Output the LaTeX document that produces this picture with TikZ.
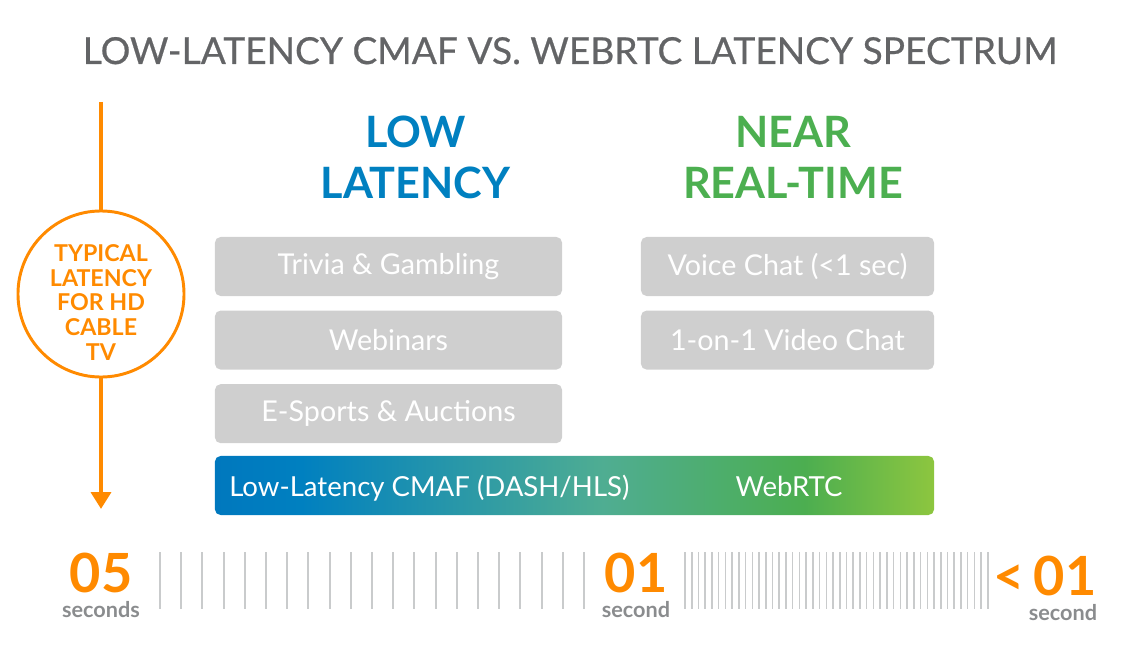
\documentclass[tikz,border=0pt]{standalone}
\usepackage{fontspec}
\setmainfont{Lato}
\newfontfamily\titlefont[FakeBold=0.6]{Lato}
\usetikzlibrary{arrows.meta,positioning}
\definecolor{titlegray}{HTML}{636466}
\definecolor{lowblue}{HTML}{0080C0}
\definecolor{neargreen}{HTML}{4CAF50}
\definecolor{cableorange}{HTML}{FF8A00}
\definecolor{boxgray}{HTML}{CFCFCF}
\definecolor{tickgray}{HTML}{C9CBCC}
\definecolor{unitgray}{HTML}{8A8C8E}
\definecolor{barA}{HTML}{0078BE}
\definecolor{barB}{HTML}{0080C0}
\definecolor{barC}{HTML}{4FAD92}
\definecolor{barD}{HTML}{4CAE50}
\definecolor{barE}{HTML}{8DC63F}
\pgfdeclarehorizontalshading{cmafrtc}{100bp}{color(0bp)=(barA); color(25bp)=(barA); color(31bp)=(barB); color(52bp)=(barC); color(66bp)=(barD); color(75bp)=(barE); color(100bp)=(barE)}

\begin{document}
\begin{tikzpicture}[x=0.025cm,y=-0.025cm,
  heading/.style={anchor=base,font=\bfseries\fontsize{30.7}{36}\selectfont},
  usecase/.style={fill=boxgray,text=white,rounded corners=4pt,inner sep=0pt,
    minimum height=1.475cm,font=\fontsize{20.4}{24}\selectfont},
  bartext/.style={text=white,inner sep=0pt,font=\fontsize{19.6}{24}\selectfont},
  seclabel/.style={anchor=base,inner sep=0pt,text=cableorange,font=\bfseries\fontsize{38.4}{44}\selectfont},
  unitlabel/.style={anchor=base,inner sep=0pt,text=unitgray,font=\bfseries\fontsize{15.4}{18}\selectfont},
  orangeline/.style={draw=cableorange,line width=3.5pt}]
\useasboundingbox (0,0) rectangle (1140,650);
% the title
\node[anchor=base,text=titlegray,font=\titlefont\fontsize{26.4}{32}\selectfont] (title) at (570,64) {LOW-LATENCY CMAF VS. WEBRTC LATENCY SPECTRUM};
% the two column headings
\node[heading,text=lowblue] (lowA) at (415.5,148) {LOW};
\node[heading,text=lowblue] (lowB) at (415.5,199) {LATENCY};
\node[heading,text=neargreen] (nearA) at (793,148) {NEAR};
\node[heading,text=neargreen] (nearB) at (793,199) {REAL-TIME};
% the use cases
\node[usecase,minimum width=8.675cm] (trivia) at (388.5,266.5) {Trivia \& Gambling};
\node[usecase,minimum width=8.675cm,below=0.35cm of trivia] (webinar) {Webinars};
\node[usecase,minimum width=8.675cm,below=0.35cm of webinar] (esports) {E-Sports \& Auctions};
\node[usecase,minimum width=7.325cm] (voice) at (787.5,266.5) {Voice Chat (<1 sec)};
\node[usecase,minimum width=7.325cm,below=0.35cm of voice] (video) {1-on-1 Video Chat};
% the protocol bar
\node[shading=cmafrtc,rounded corners=4pt,minimum width=17.975cm,minimum height=1.475cm,inner sep=0pt] (bar) at (574.5,485.5) {};
\node[bartext,anchor=base west] (cmaf) at (229,496) {Low-Latency CMAF (DASH/HLS)};
\node[bartext,anchor=base] (webrtc) at (789,496) {WebRTC};
% the cable tv marker
\node[circle,draw=cableorange,line width=2.1pt,minimum size=4.15cm,inner sep=0pt] (hd) at (101,294) {};
\node[align=center,text=cableorange,font=\bfseries\fontsize{16.5}{17.7}\selectfont] (hdtext) at (101,302.5) {TYPICAL\\LATENCY\\FOR HD\\CABLE\\TV};
\coordinate (arrtop) at (101,102);
\coordinate (arrbot) at (101,509);
\draw[orangeline] (arrtop) -- (hd.north);
\draw[orangeline,-{Triangle[width=14pt,length=12pt]}] (hd.south) -- (arrbot);
% the ticks
\foreach \x in {0,...,20}
  \draw[draw=tickgray,line width=1.4pt] (160+\x*21.2,552) -- (160+\x*21.2,609);
\foreach \x in {0,...,45}
  \draw[draw=tickgray,line width=1.1pt] (685+\x*6.73,552) -- (685+\x*6.73,609);
% the scale labels
\node[seclabel] (five) at (101,592) {05};
\node[unitlabel] (fiveunit) at (101,617) {seconds};
\node[seclabel] (one) at (636,592) {01};
\node[unitlabel] (oneunit) at (636,617) {second};
\node[seclabel] (less) at (1045,595) {<\,01};
\node[unitlabel] (lessunit) at (1063,620) {second};
\end{tikzpicture}
\end{document}
